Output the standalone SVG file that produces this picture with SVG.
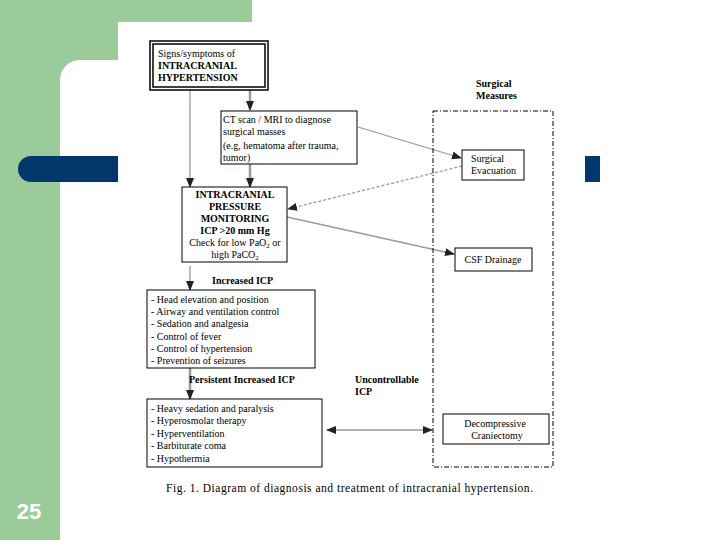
<svg xmlns="http://www.w3.org/2000/svg" width="720" height="540" viewBox="0 0 720 540">
<style>
.box{fill:#fff;stroke:#000;stroke-width:1}
.t{font-family:"Liberation Serif","Times New Roman",serif;font-size:10px;fill:#000}
.b{font-weight:bold}
.c{text-anchor:middle}
.ln{fill:none;stroke:#9a9a9a;stroke-width:1.3}
.thick{stroke-width:2.5}
.dash{stroke-dasharray:3,2}
</style>
<defs>
<marker id="ah" markerWidth="10" markerHeight="8" refX="9" refY="4" orient="auto" markerUnits="userSpaceOnUse">
<path d="M0,0 L10,4 L0,8 Z" fill="#222"/>
</marker>
<marker id="ahs" markerWidth="10" markerHeight="8" refX="1" refY="4" orient="auto" markerUnits="userSpaceOnUse">
<path d="M10,0 L0,4 L10,8 Z" fill="#222"/>
</marker>
</defs>
<g id="background">
<rect x="0" y="0" width="720" height="540" fill="#fff"/>
<rect x="0" y="0" width="252" height="22" fill="#9bcb99"/>
<rect x="0" y="0" width="118" height="80" fill="#9bcb99"/>
<rect x="0" y="0" width="60" height="540" fill="#9bcb99"/>
<path d="M60,80 A20,20 0 0 1 80,60 L118,60 L118,540 L60,540 Z" fill="#fff"/>
<path d="M31,156 L600,156 L600,182 L31,182 A13,13 0 0 1 31,156 Z" fill="#00386b"/>
<rect x="118" y="22" width="467" height="518" fill="#fff"/>
<text x="29" y="519" text-anchor="middle" font-family="Liberation Sans, Arial, sans-serif" font-size="22" font-weight="bold" fill="#fff">25</text>
</g>
<g id="connectors">
<line class="ln" x1="190" y1="90" x2="190" y2="187" marker-end="url(#ah)"/>
<line class="ln thick" x1="250" y1="90" x2="250" y2="110" marker-end="url(#ah)"/>
<line class="ln thick" x1="250" y1="164" x2="250" y2="187" marker-end="url(#ah)"/>
<line class="ln" x1="358" y1="127" x2="461" y2="158" marker-end="url(#ah)"/>
<line class="ln dash" x1="462" y1="166" x2="288" y2="209" marker-end="url(#ah)"/>
<line class="ln" x1="287" y1="217" x2="454" y2="254" marker-end="url(#ah)"/>
<line class="ln" x1="190" y1="266" x2="190" y2="290" marker-end="url(#ah)"/>
<line class="ln thick" x1="190" y1="368" x2="190" y2="399" marker-end="url(#ah)"/>
<line class="ln" x1="327" y1="430" x2="432" y2="430" marker-start="url(#ahs)" marker-end="url(#ah)"/>
</g>
<g id="surgical-measures">
<rect x="433" y="111" width="120" height="356" fill="none" stroke="#000" stroke-width="1" stroke-dasharray="5,2,1,2"/>
<text class="t b" x="476" y="87">Surgical</text>
<text class="t b" x="476" y="99">Measures</text>
</g>
<g id="signs">
<rect x="150" y="41" width="118" height="49" fill="#fff" stroke="#000" stroke-width="1.5"/>
<rect x="153" y="44" width="112" height="43" fill="none" stroke="#000" stroke-width="1.5"/>
<text class="t" x="158" y="57">Signs/symptoms of</text>
<text class="t b" x="158" y="69">INTRACRANIAL</text>
<text class="t b" x="158" y="81">HYPERTENSION</text>
</g>
<g id="ct-scan">
<rect class="box" x="221" y="111" width="136" height="53"/>
<text class="t" x="223" y="123">CT scan / MRI to diagnose</text>
<text class="t" x="223" y="135">surgical masses</text>
<text class="t" x="223" y="149">(e.g, hematoma after trauma,</text>
<text class="t" x="223" y="161">tumor)</text>
</g>
<g id="icp-monitoring">
<rect class="box" x="182" y="187" width="105" height="75"/>
<text class="t b c" x="235" y="198">INTRACRANIAL</text>
<text class="t b c" x="235" y="210">PRESSURE</text>
<text class="t b c" x="235" y="222">MONITORING</text>
<text class="t b c" x="235" y="234">ICP &gt;20 mm Hg</text>
<text class="t c" x="235" y="246">Check for low PaO<tspan font-size="7" dy="2">2</tspan><tspan dy="-2"> or</tspan></text>
<text class="t c" x="235" y="258">high PaCO<tspan font-size="7" dy="2">2</tspan></text>
</g>
<text class="t b" x="212" y="284">Increased ICP</text>
<g id="first-line">
<rect class="box" x="147" y="290" width="168" height="78"/>
<text class="t" x="151" y="303">- Head elevation and position</text>
<text class="t" x="151" y="315">- Airway and ventilation control</text>
<text class="t" x="151" y="327">- Sedation and analgesia</text>
<text class="t" x="151" y="340">- Control of fever</text>
<text class="t" x="151" y="352">- Control of hypertension</text>
<text class="t" x="151" y="364">- Prevention of seizures</text>
</g>
<text class="t b" x="189" y="383">Persistent Increased ICP</text>
<text class="t b" x="355" y="383">Uncontrollable</text>
<text class="t b" x="355" y="395">ICP</text>
<g id="second-line">
<rect class="box" x="147" y="399" width="175" height="68"/>
<text class="t" x="151" y="412">- Heavy sedation and paralysis</text>
<text class="t" x="151" y="424">- Hyperosmolar therapy</text>
<text class="t" x="151" y="437">- Hyperventilation</text>
<text class="t" x="151" y="449">- Barbiturate coma</text>
<text class="t" x="151" y="462">- Hypothermia</text>
</g>
<g id="surgical-evacuation">
<rect class="box" x="462" y="150" width="62" height="30"/>
<text class="t" x="471" y="162">Surgical</text>
<text class="t" x="471" y="174">Evacuation</text>
</g>
<g id="csf-drainage">
<rect class="box" x="455" y="248" width="77" height="23"/>
<text class="t c" x="493" y="263">CSF Drainage</text>
</g>
<g id="craniectomy">
<rect class="box" x="443" y="414" width="106" height="30"/>
<text class="t c" x="495" y="427">Decompressive</text>
<text class="t c" x="497" y="439">Craniectomy</text>
</g>
<text x="166" y="492" font-family="Liberation Serif, Times New Roman, serif" font-size="11.5" textLength="367" lengthAdjust="spacing">Fig. 1. Diagram of diagnosis and treatment of intracranial hypertension.</text>
</svg>
